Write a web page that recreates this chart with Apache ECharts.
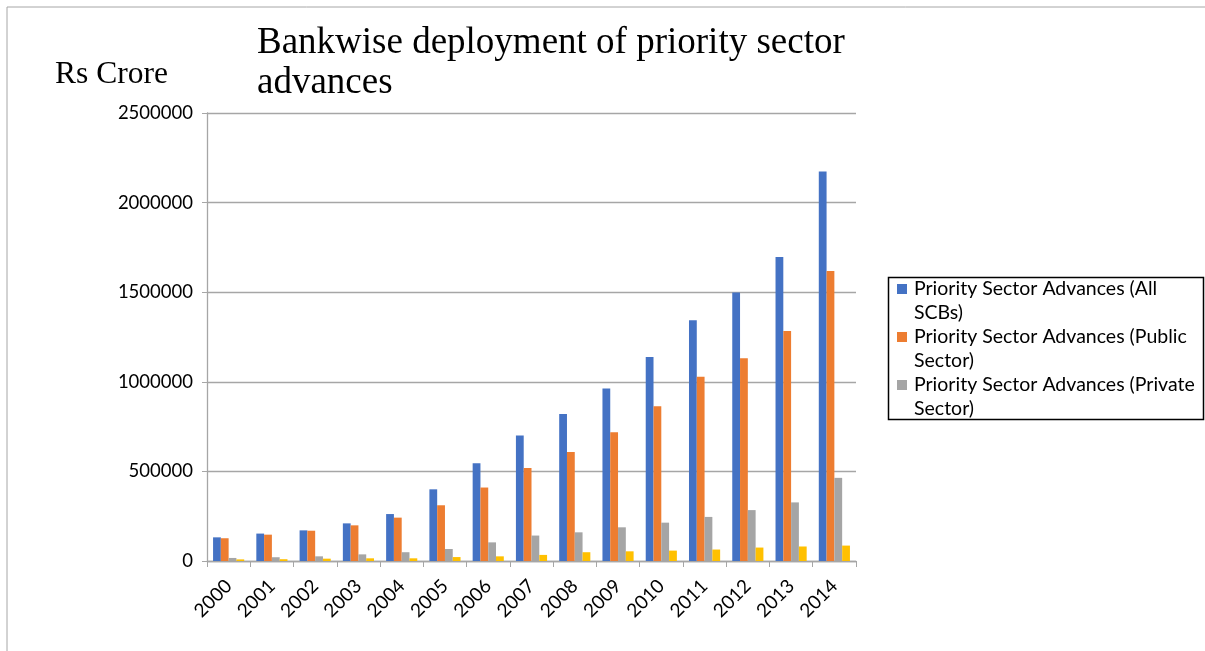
<!DOCTYPE html>
<html>
<head>
<meta charset="utf-8">
<script src="https://cdn.jsdelivr.net/npm/echarts@6/dist/echarts.min.js"></script>
<style>html,body{margin:0;padding:0;background:#fff;}#c{width:1205px;height:651px;}</style>
</head>
<body>
<div id="c"></div>
<script>
const years = ['2000','2001','2002','2003','2004','2005','2006','2007','2008','2009','2010','2011','2012','2013','2014'];
const allSCBs = [132000,153000,171000,210000,262000,400000,545000,700000,821000,963000,1138000,1343000,1498000,1696000,2173000];
const publicSector = [127000,147000,169000,199000,242000,311000,410000,519000,608000,718000,864000,1028000,1131000,1284000,1618000];
const privateSector = [17000,21000,26000,37000,49000,67000,104000,142000,160000,188000,214000,246000,284000,327000,464000];
const foreignBanks = [9000,10000,13000,15000,15000,22000,26000,34000,49000,54000,58000,64000,75000,81000,86000];
const seriesNames = ['Priority Sector Advances (All SCBs)','Priority Sector Advances (Public Sector)','Priority Sector Advances (Private Sector)','Priority Sector Advances (Foreign Banks)'];
const legendLines = [['Priority Sector Advances (All','SCBs)'],['Priority Sector Advances (Public','Sector)'],['Priority Sector Advances (Private','Sector)']];
const colors = ['#4472C4','#ED7D31','#A5A5A5','#FFC000'];
const yTicks = [0,500000,1000000,1500000,2000000,2500000];

const chart = echarts.init(document.getElementById('c'));
const labelFont = 'Lato, "Open Sans", sans-serif';
const rich = {
  t:{fontFamily:labelFont,fontSize:19.5,color:'#000',lineHeight:24},
  ind:{width:17,height:10,lineHeight:24}
};
colors.forEach((c,i)=>{ rich['s'+i] = {width:10,height:10,backgroundColor:c,lineHeight:24,padding:0}; rich['g'+i]={width:7,height:10}; });

const option = {
  animation:false,
  color: colors,
  title:[
    {text:'Bankwise deployment of priority sector\nadvances',left:252,top:18,textStyle:{fontFamily:'"Liberation Serif","Times New Roman",serif',fontSize:37,fontWeight:'normal',color:'#000',lineHeight:40}},
    {text:'Rs Crore',left:50,top:54,textStyle:{fontFamily:'"Liberation Serif","Times New Roman",serif',fontSize:31.5,fontWeight:'normal',color:'#000'}}
  ],
  graphic:[
    {type:'polyline',shape:{points:[[7,651],[7,7],[1205,7]]},style:{stroke:'#a6a6a6',lineWidth:1,fill:null},silent:true},
    {type:'rect',shape:{x:888.5,y:277.5,width:315,height:142},style:{stroke:'#000',lineWidth:1.5,fill:null},silent:true}
  ],
  legend:{
    data: seriesNames.slice(0,3),
    orient:'vertical',
    left:892, top:279,
    icon:'none', itemWidth:0, itemHeight:10, itemGap:4,
    padding:0,
    formatter:function(name){
      const i = seriesNames.indexOf(name);
      const l = legendLines[i];
      return '{s'+i+'|}{g'+i+'|}{t|'+l[0]+'}\n{ind|}{t|'+l[1]+'}';
    },
    textStyle:{rich:rich}
  },
  grid:{left:207,right:349,top:113,bottom:90,containLabel:false},
  xAxis:{
    type:'category',data:years,
    axisLine:{lineStyle:{color:'#a6a6a6',width:1.3}},
    axisTick:{show:true,length:6,lineStyle:{color:'#a6a6a6'}},
    axisLabel:{rotate:45,fontFamily:labelFont,fontSize:19,color:'#000',margin:22,interval:0}
  },
  yAxis:{
    type:'value',min:0,max:2500000,interval:500000,
    axisLine:{show:true,lineStyle:{color:'#a6a6a6',width:1.3}},
    axisTick:{show:true,length:5,lineStyle:{color:'#a6a6a6'}},
    splitLine:{lineStyle:{color:'#a6a6a6',width:1.3}},
    axisLabel:{fontFamily:labelFont,fontSize:18.5,color:'#000',margin:14,
      formatter:function(v){return yTicks.indexOf(v)>=0?String(v):'';}}
  },
  series:[
    {name:seriesNames[0],type:'bar',data:allSCBs,barGap:'0%',barCategoryGap:'28%'},
    {name:seriesNames[1],type:'bar',data:publicSector,barGap:'0%',barCategoryGap:'28%'},
    {name:seriesNames[2],type:'bar',data:privateSector,barGap:'0%',barCategoryGap:'28%'},
    {name:seriesNames[3],type:'bar',data:foreignBanks,barGap:'0%',barCategoryGap:'28%'}
  ]
};
chart.setOption(option);
</script>
</body>
</html>
